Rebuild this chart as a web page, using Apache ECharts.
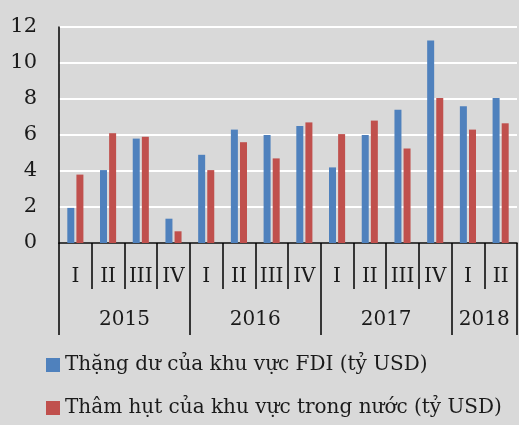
<!DOCTYPE html>
<html>
<head>
<meta charset="utf-8">
<script src="https://cdn.jsdelivr.net/npm/echarts@6/dist/echarts.min.js"></script>
<style>
  html, body { margin: 0; padding: 0; background: #d9d9d9; }
  #chart { width: 519px; height: 425px; }
</style>
</head>
<body>
<div id="chart"></div>
<script>
// dữ liệu
var quarters = ['I', 'II', 'III', 'IV', 'I', 'II', 'III', 'IV', 'I', 'II', 'III', 'IV', 'I', 'II'];
var years = ['2015', '2016', '2017', '2018'];
var quartersPerYear = [4, 4, 4, 2];
var fdiSurplus = [1.95, 4.05, 5.8, 1.35, 4.9, 6.3, 6.0, 6.5, 4.2, 6.0, 7.4, 11.25, 7.6, 8.05];
var domesticDeficit = [3.8, 6.1, 5.9, 0.65, 4.05, 5.6, 4.7, 6.7, 6.05, 6.8, 5.25, 8.05, 6.3, 6.65];
var yTicks = [0, 2, 4, 6, 8, 10, 12];

var seriesNames = ['Thặng dư của khu vực FDI (tỷ USD)', 'Thâm hụt của khu vực trong nước (tỷ USD)'];

// ranh giới và tâm của từng năm (theo số quý)
var yearEdges = [0];
var yearCenters = [];
quartersPerYear.forEach(function (n, i) {
    yearCenters.push(yearEdges[i] + n / 2);
    yearEdges.push(yearEdges[i] + n);
});

var font = 'DejaVu Serif';
var txt = '#1a1a1a';

var myChart = echarts.init(document.getElementById('chart'));
var option = {
    backgroundColor: '#d9d9d9',
    animation: false,
    textStyle: { fontFamily: font, color: txt },
    grid: { left: 59, right: 2, top: 27, bottom: 182 },
    legend: {
        orient: 'vertical',
        left: 46,
        top: 355,
        padding: 0,
        itemWidth: 14,
        itemHeight: 14,
        itemGap: 23,
        icon: 'rect',
        textStyle: { fontFamily: font, fontSize: 20, color: txt },
        data: seriesNames
    },
    xAxis: [
        {
            type: 'category',
            data: quarters,
            position: 'bottom',
            axisLine: { lineStyle: { color: '#000', width: 1.5 } },
            axisTick: { show: true, interval: 0, length: 46, lineStyle: { color: '#000', width: 1.5 } },
            axisLabel: { interval: 0, margin: 24, fontFamily: font, fontSize: 20, color: txt }
        },
        {
            type: 'value',
            min: 0,
            max: quarters.length,
            position: 'bottom',
            offset: 0,
            splitLine: { show: false },
            axisLine: { show: false },
            axisTick: { show: true, customValues: yearEdges, length: 92, lineStyle: { color: '#000', width: 1.5 } },
            axisLabel: {
                customValues: yearCenters,
                margin: 67,
                fontFamily: font,
                fontSize: 20,
                color: txt,
                formatter: function (v) {
                    var i = yearCenters.indexOf(v);
                    return i >= 0 ? years[i] : '';
                }
            }
        }
    ],
    yAxis: {
        type: 'value',
        min: yTicks[0],
        max: yTicks[yTicks.length - 1],
        interval: 2,
        axisLine: { show: true, lineStyle: { color: '#000', width: 1.5 } },
        axisTick: { show: false },
        axisLabel: { margin: 22, fontFamily: font, fontSize: 21, color: txt },
        splitLine: { lineStyle: { color: '#ffffff', width: 2 } }
    },
    series: [
        {
            name: seriesNames[0],
            type: 'bar',
            xAxisIndex: 0,
            data: fdiSurplus,
            barWidth: 7,
            barGap: '30%',
            itemStyle: { color: '#4f81bd' }
        },
        {
            name: seriesNames[1],
            type: 'bar',
            xAxisIndex: 0,
            data: domesticDeficit,
            barWidth: 7,
            barGap: '30%',
            itemStyle: { color: '#c0504d' }
        }
    ]
};
myChart.setOption(option);
</script>
</body>
</html>
